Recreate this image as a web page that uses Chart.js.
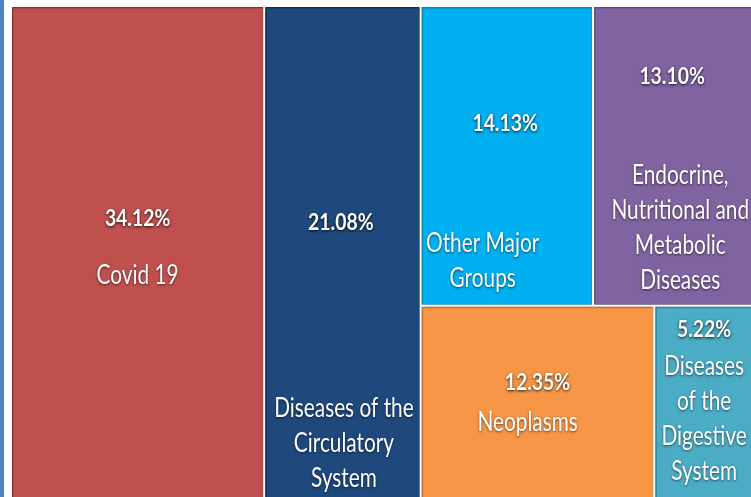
<!DOCTYPE html>
<html>
<head>
<meta charset="utf-8">
<script src="https://cdn.jsdelivr.net/npm/chart.js@4.4.1/dist/chart.umd.min.js"></script>
<style>
    html, body { margin: 0; padding: 0; background: #fff; }
    body { width: 751px; height: 497px; position: relative; overflow: hidden; }
    #edge { position: absolute; left: 0; top: 0; width: 4px; height: 497px; background: #4f81bd; }
    #wrap { position: absolute; left: 11px; top: 6px; width: 742px; height: 493px; }
</style>
</head>
<body>
<div id="edge"></div>
<div id="wrap"><canvas id="treeChart"></canvas></div>
<script>
// data
const categories = ['Covid 19', 'Diseases of the Circulatory System', 'Other Major Groups',
    'Endocrine, Nutritional and Metabolic Diseases', 'Neoplasms', 'Diseases of the Digestive System'];
const shares = [34.12, 21.08, 14.13, 13.10, 12.35, 5.22];
const valueLabels = ['34.12%', '21.08%', '14.13%', '13.10%', '12.35%', '5.22%'];
const labelLines = [
    ['Covid 19'],
    ['Diseases of the', 'Circulatory', 'System'],
    ['Other Major', 'Groups'],
    ['Endocrine,', 'Nutritional and', 'Metabolic', 'Diseases'],
    ['Neoplasms'],
    ['Diseases', 'of the', 'Digestive', 'System']
];

// styles
const colors = ['#c0504d', '#1f497d', '#00b0f0', '#8064a2', '#f79646', '#4bacc6'];
const edgeColors = ['#8c3432', '#0f2c52', '#0585b8', '#5e4780', '#c06f2c', '#2f8099'];
// text anchors as fractions of each tile: [pctX, pctY, labelX, labelY]
const anchors = [
    [0.5, 0.432, 0.5, 0.546],
    [0.49, 0.44, 0.51, 0.817],
    [0.49, 0.395, 0.36, 0.794],
    [0.494, 0.236, 0.545, 0.565],
    [0.5, 0.4, 0.458, 0.605],
    [0.505, 0.126, 0.505, 0.316]
];
const lineGap = 35;

// slice-and-dice: first two tiles are full-height columns, the rest go in rows of two
function layoutTiles() {
    const total = shares.reduce((a, b) => a + b, 0);
    const tiles = [];
    let x = 0;
    for (let i = 0; i < 2; i++) {
        const w = shares[i] / total * 100;
        tiles.push({ x0: x, x1: x + w, y0: 0, y1: 100 });
        x += w;
    }
    const rest = shares.slice(2).reduce((a, b) => a + b, 0);
    let y = 0;
    for (let i = 2; i < shares.length; i += 2) {
        const rowSum = shares[i] + shares[i + 1];
        const h = rowSum / rest * 100;
        let rx = x;
        for (let j = i; j < i + 2; j++) {
            const w = shares[j] / rowSum * (100 - x);
            tiles.push({ x0: rx, x1: rx + w, y0: y, y1: y + h });
            rx += w;
        }
        y += h;
    }
    return tiles;
}

const tiles = layoutTiles();

// narrow, tall text like the original (condensed face)
function drawText(ctx, text, x, y, font, sx) {
    ctx.save();
    ctx.translate(x, y);
    ctx.scale(sx, 1);
    ctx.font = font;
    ctx.fillText(text, 0, 0);
    ctx.restore();
}

const treemapPlugin = {
    id: 'treemapTiles',
    beforeDatasetsDraw(chart) {
        const ctx = chart.ctx;
        const xs = chart.scales.x, ys = chart.scales.y;
        tiles.forEach((t, i) => {
            const left = xs.getPixelForValue(t.x0), right = xs.getPixelForValue(t.x1);
            const top = ys.getPixelForValue(t.y0), bottom = ys.getPixelForValue(t.y1);
            const w = right - left, h = bottom - top;
            ctx.save();
            ctx.fillStyle = '#ffffff';
            ctx.fillRect(left, top, w, h);
            ctx.fillStyle = edgeColors[i];
            ctx.fillRect(left + 1, top + 1, w - 2, h - 2);
            ctx.fillStyle = colors[i];
            ctx.fillRect(left + 2.5, top + 2.5, w - 4, h - 4);

            // texts
            const a = anchors[i];
            ctx.fillStyle = '#ffffff';
            ctx.textAlign = 'center';
            ctx.textBaseline = 'middle';
            ctx.shadowColor = 'rgba(0,0,0,0.85)';
            ctx.shadowBlur = 3;
            ctx.shadowOffsetX = 0;
            ctx.shadowOffsetY = 1;
            drawText(ctx, valueLabels[i], left + w * a[0], top + h * a[1], 'bold 22px Lato', 0.88);
            ctx.shadowColor = 'rgba(0,0,0,0.6)';
            ctx.shadowBlur = 2.5;
            labelLines[i].forEach((line, k) => {
                drawText(ctx, line, left + w * a[2], top + h * a[3] + k * lineGap, '26px Lato', 0.8);
            });
            ctx.restore();
        });
    }
};

document.addEventListener('DOMContentLoaded', function() {
    new Chart(document.getElementById('treeChart'), {
        type: 'scatter',
        data: {
            datasets: [{
                label: 'Share',
                data: tiles.map((t, i) => ({ x: (t.x0 + t.x1) / 2, y: (t.y0 + t.y1) / 2, v: shares[i] })),
                pointRadius: 0,
                pointHoverRadius: 0
            }]
        },
        options: {
            responsive: true,
            maintainAspectRatio: false,
            animation: false,
            layout: { padding: 0 },
            plugins: {
                legend: { display: false },
                tooltip: { enabled: false }
            },
            scales: {
                x: { type: 'linear', min: 0, max: 100, display: false },
                y: { type: 'linear', min: 0, max: 100, reverse: true, display: false }
            }
        },
        plugins: [treemapPlugin]
    });
});
</script>
</body>
</html>
